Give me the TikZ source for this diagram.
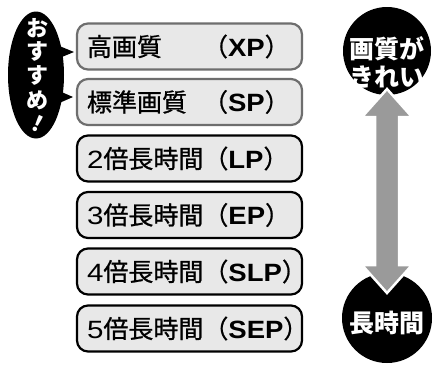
\documentclass[tikz,border=0pt]{standalone}
\usepackage{fontspec}
\setmainfont{Noto Sans CJK JP}
\newfontfamily\jpbox{Noto Sans CJK JP}[FakeBold=0.8]
\newfontfamily\latr{Liberation Sans}[FakeStretch=1.18]
\newfontfamily\latb{Liberation Sans}[FakeStretch=1.1]
\usetikzlibrary{shapes.geometric}
\definecolor{boxfill}{HTML}{E8E8E8}
\definecolor{boxgray}{HTML}{6E6E6E}
\definecolor{arrowgray}{HTML}{9A9A9A}
\newcommand\ab[1]{{\latb\bfseries #1}}
\newcommand\dg[1]{{\latr #1}}
\newcommand\mode[1]{（\ab{#1}）}
\newcommand\lead[1]{\makebox[116pt][l]{#1}}
\begin{document}
\begin{tikzpicture}[x=1pt,y=-1pt,
  modebox/.style={rectangle, rounded corners=11pt, fill=boxfill, line width=2.2pt,
    minimum height=46pt, text width=205pt, inner xsep=10pt, inner ysep=0pt,
    align=left, font=\jpbox\fontsize{25}{28}\selectfont},
  hq/.style={modebox, draw=boxgray},
  lq/.style={modebox, draw=black},
  vchar/.style={text=white, font=\fontsize{22}{22}\selectfont\bfseries, inner sep=0pt},
  badge/.style={circle, fill=black, inner sep=0pt},
  badgetext/.style={text=white, font=\fontsize{25}{28}\selectfont\bfseries, align=center, inner sep=0pt}]
\useasboundingbox[fill=white] (0,0) rectangle (435,367);

% mode boxes
\node[hq] (b1) at (189.5,46.5) {\lead{高画質}\mode{XP}};
\node[hq] (b2) at (189.5,102) {\lead{標準画質}\mode{SP}};
\node[lq] (b3) at (189.5,158.5) {\dg{2}倍長時間\mode{LP}};
\node[lq] (b4) at (189.5,215) {\dg{3}倍長時間\mode{EP}};
\node[lq] (b5) at (189.5,271.5) {\dg{4}倍長時間\mode{SLP}};
\node[lq] (b6) at (189.5,328.5) {\dg{5}倍長時間\mode{SEP}};

% recommendation balloon
\node[ellipse, fill=black, minimum width=56pt, minimum height=127pt, inner sep=0pt] (rec) at (36,75) {};
\fill (57,45) -- (74,52) -- (57,59) -- cycle;
\fill (57,90) -- (73,97) -- (57,104) -- cycle;
\node[vchar] (c1) at (37,28) {お};
\node[vchar] (c2) at (37,51) {す};
\node[vchar] (c3) at (37,75) {す};
\node[vchar] (c4) at (37,100) {め};
\node[vchar, rotate=-25] (c5) at (38,124) {！};

% badges
\node[badge, minimum size=88pt] (hi) at (387,51) {};
\node[badge, minimum size=90pt] (lo) at (387,318) {};

% double arrow
\filldraw[fill=arrowgray, draw=white, line width=2.5pt, line join=miter]
  (387,89) -- (412,117) -- (399,117) -- (399,265) -- (412,265) -- (387,293)
  -- (362,265) -- (375,265) -- (375,117) -- (362,117) -- cycle;

\node[badgetext] (hitext) at (387,62) {画質が\\きれい};
\node[badgetext] (lotext) at (387,323) {長時間};
\end{tikzpicture}
\end{document}
